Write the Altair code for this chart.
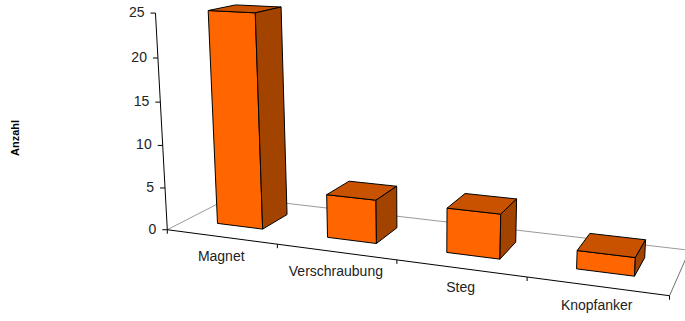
import math

import altair as alt
import pandas as pd

# ---- data -------------------------------------------------------------
categories = ["Magnet", "Verschraubung", "Steg", "Knopfanker"]
counts = [25, 5, 5, 2]
value_ticks = [0, 5, 10, 15, 20, 25]
axis_title = "Anzahl"

# ---- 3-D view (perspective camera) -----------------------------------
THETA = math.radians(21)      # rotation about the vertical axis
PHI = math.radians(13)        # elevation (looking down)
FOCAL = 1096.0                # focal length in pixels
DIST = 8.4                    # camera distance to the view centre
UNIT = 0.07                   # world height of one count
CENTER = (2.0, 0.5, 0.875)    # world point at the view centre
SCREEN_C = (421.0, 131.0)     # pixel position of the view centre

BAR_LO, BAR_HI = 0.29, 0.71   # bar extent inside a category slot / depth
FLOOR_DEPTH = 1.0


def project(x, z, v):
    """Map world (category x, depth z, value v) to screen pixels."""
    X = x - CENTER[0]
    Z = z - CENTER[1]
    Y = v * UNIT - CENTER[2]
    xc = X * math.cos(THETA) + Z * math.sin(THETA)
    zr = -X * math.sin(THETA) + Z * math.cos(THETA)
    up = Y * math.cos(PHI) + zr * math.sin(PHI)
    depth = zr * math.cos(PHI) - Y * math.sin(PHI)
    s = FOCAL / (DIST + depth)
    return SCREEN_C[0] + xc * s, SCREEN_C[1] - up * s


def path_rows(key, pts):
    rows = []
    for k, (x, z, v) in enumerate(pts):
        sx, sy = project(x, z, v)
        rows.append({"key": key, "k": k, "sx": sx, "sy": sy})
    return rows


n = len(categories)

# floor edges
floor_back = pd.DataFrame(
    path_rows("left", [(0, 0, 0), (0, FLOOR_DEPTH, 0)])
    + path_rows("back", [(0, FLOOR_DEPTH, 0), (n, FLOOR_DEPTH, 0)])
)
floor_right = pd.DataFrame(path_rows("right", [(n, 0, 0), (n, FLOOR_DEPTH, 0)]))
floor_front = pd.DataFrame(path_rows("front", [(0, 0, 0), (n, 0, 0)]))
value_axis = pd.DataFrame(path_rows("vaxis", [(0, 0, 0), (0, 0, max(value_ticks))]))

# bar faces (closed outlines)
front_rows, top_rows, side_rows = [], [], []
for i, (cat, v) in enumerate(zip(categories, counts)):
    x0, x1 = i + BAR_LO, i + BAR_HI
    z0, z1 = BAR_LO, BAR_HI
    front_rows += path_rows(cat, [(x0, z0, 0), (x1, z0, 0), (x1, z0, v), (x0, z0, v), (x0, z0, 0)])
    top_rows += path_rows(cat, [(x0, z0, v), (x1, z0, v), (x1, z1, v), (x0, z1, v), (x0, z0, v)])
    side_rows += path_rows(cat, [(x1, z0, 0), (x1, z1, 0), (x1, z1, v), (x1, z0, v), (x1, z0, 0)])
front_df = pd.DataFrame(front_rows)
top_df = pd.DataFrame(top_rows)
side_df = pd.DataFrame(side_rows)

# value axis ticks and labels
vt = []
for t in value_ticks:
    sx, sy = project(0, 0, t)
    vt.append({"label": str(t), "sx": sx, "sy": sy})
value_tick_df = pd.DataFrame(vt)

# category ticks (slot boundaries) and labels (slot centres)
ct = []
for b in range(n + 1):
    sx, sy = project(b, 0, 0)
    ct.append({"sx": sx, "sy": sy})
cat_tick_df = pd.DataFrame(ct)

cl = []
for i, cat in enumerate(categories):
    sx, sy = project(i + 0.5, 0, 0)
    cl.append({"label": cat, "sx": sx, "sy": sy})
cat_label_df = pd.DataFrame(cl)

# ---- encodings ---------------------------------------------------------
W, H = 685, 321
xs = alt.Scale(domain=[0, W], nice=False, zero=False)
ys = alt.Scale(domain=[0, H], reverse=True, nice=False, zero=False)
X = alt.X("sx:Q", scale=xs, axis=None)
Y = alt.Y("sy:Q", scale=ys, axis=None)
FONT = "Liberation Sans"
TEXT_COLOR = "#222222"


def outline(df, **mark):
    return alt.Chart(df).mark_line(**mark).encode(
        x=X, y=Y, detail="key:N", order="k:Q"
    )


layers = [
    outline(floor_back, color="#9a9a9a", strokeWidth=1),
    outline(floor_right, color="#707070", strokeWidth=1),
    outline(floor_front, color="black", strokeWidth=1),
    outline(front_df, fill="#FF6600", stroke="black", strokeWidth=1, strokeJoin="round"),
    outline(top_df, fill="#C85200", stroke="black", strokeWidth=1, strokeJoin="round"),
    outline(side_df, fill="#A34300", stroke="black", strokeWidth=1, strokeJoin="round"),
    outline(value_axis, color="black", strokeWidth=1),
    alt.Chart(value_tick_df).mark_rule(color="black", strokeWidth=1, xOffset=-5).encode(
        x=X, x2="sx:Q", y=Y
    ),
    alt.Chart(value_tick_df).mark_text(
        align="right", baseline="middle", dx=-11, font=FONT, fontSize=14, color=TEXT_COLOR
    ).encode(x=X, y=Y, text="label:N"),
    alt.Chart(cat_tick_df).mark_rule(color="black", strokeWidth=1, y2Offset=4).encode(
        x=X, y=Y, y2="sy:Q"
    ),
    alt.Chart(cat_label_df).mark_text(
        align="center", baseline="middle", dy=20, font=FONT, fontSize=14, color=TEXT_COLOR
    ).encode(x=X, y=Y, text="label:N"),
    alt.Chart(pd.DataFrame({"label": [axis_title]})).mark_text(
        angle=270, align="center", baseline="middle", font=FONT, fontSize=11,
        fontWeight="bold", color="black"
    ).encode(x=alt.value(16), y=alt.value(138), text="label:N"),
]

chart = (
    alt.layer(*layers)
    .properties(width=W, height=H, padding=0, autosize="none", background="white")
    .configure_view(stroke=None)
)

chart.save("out.html", embed_options={"renderer": "svg", "actions": False})
